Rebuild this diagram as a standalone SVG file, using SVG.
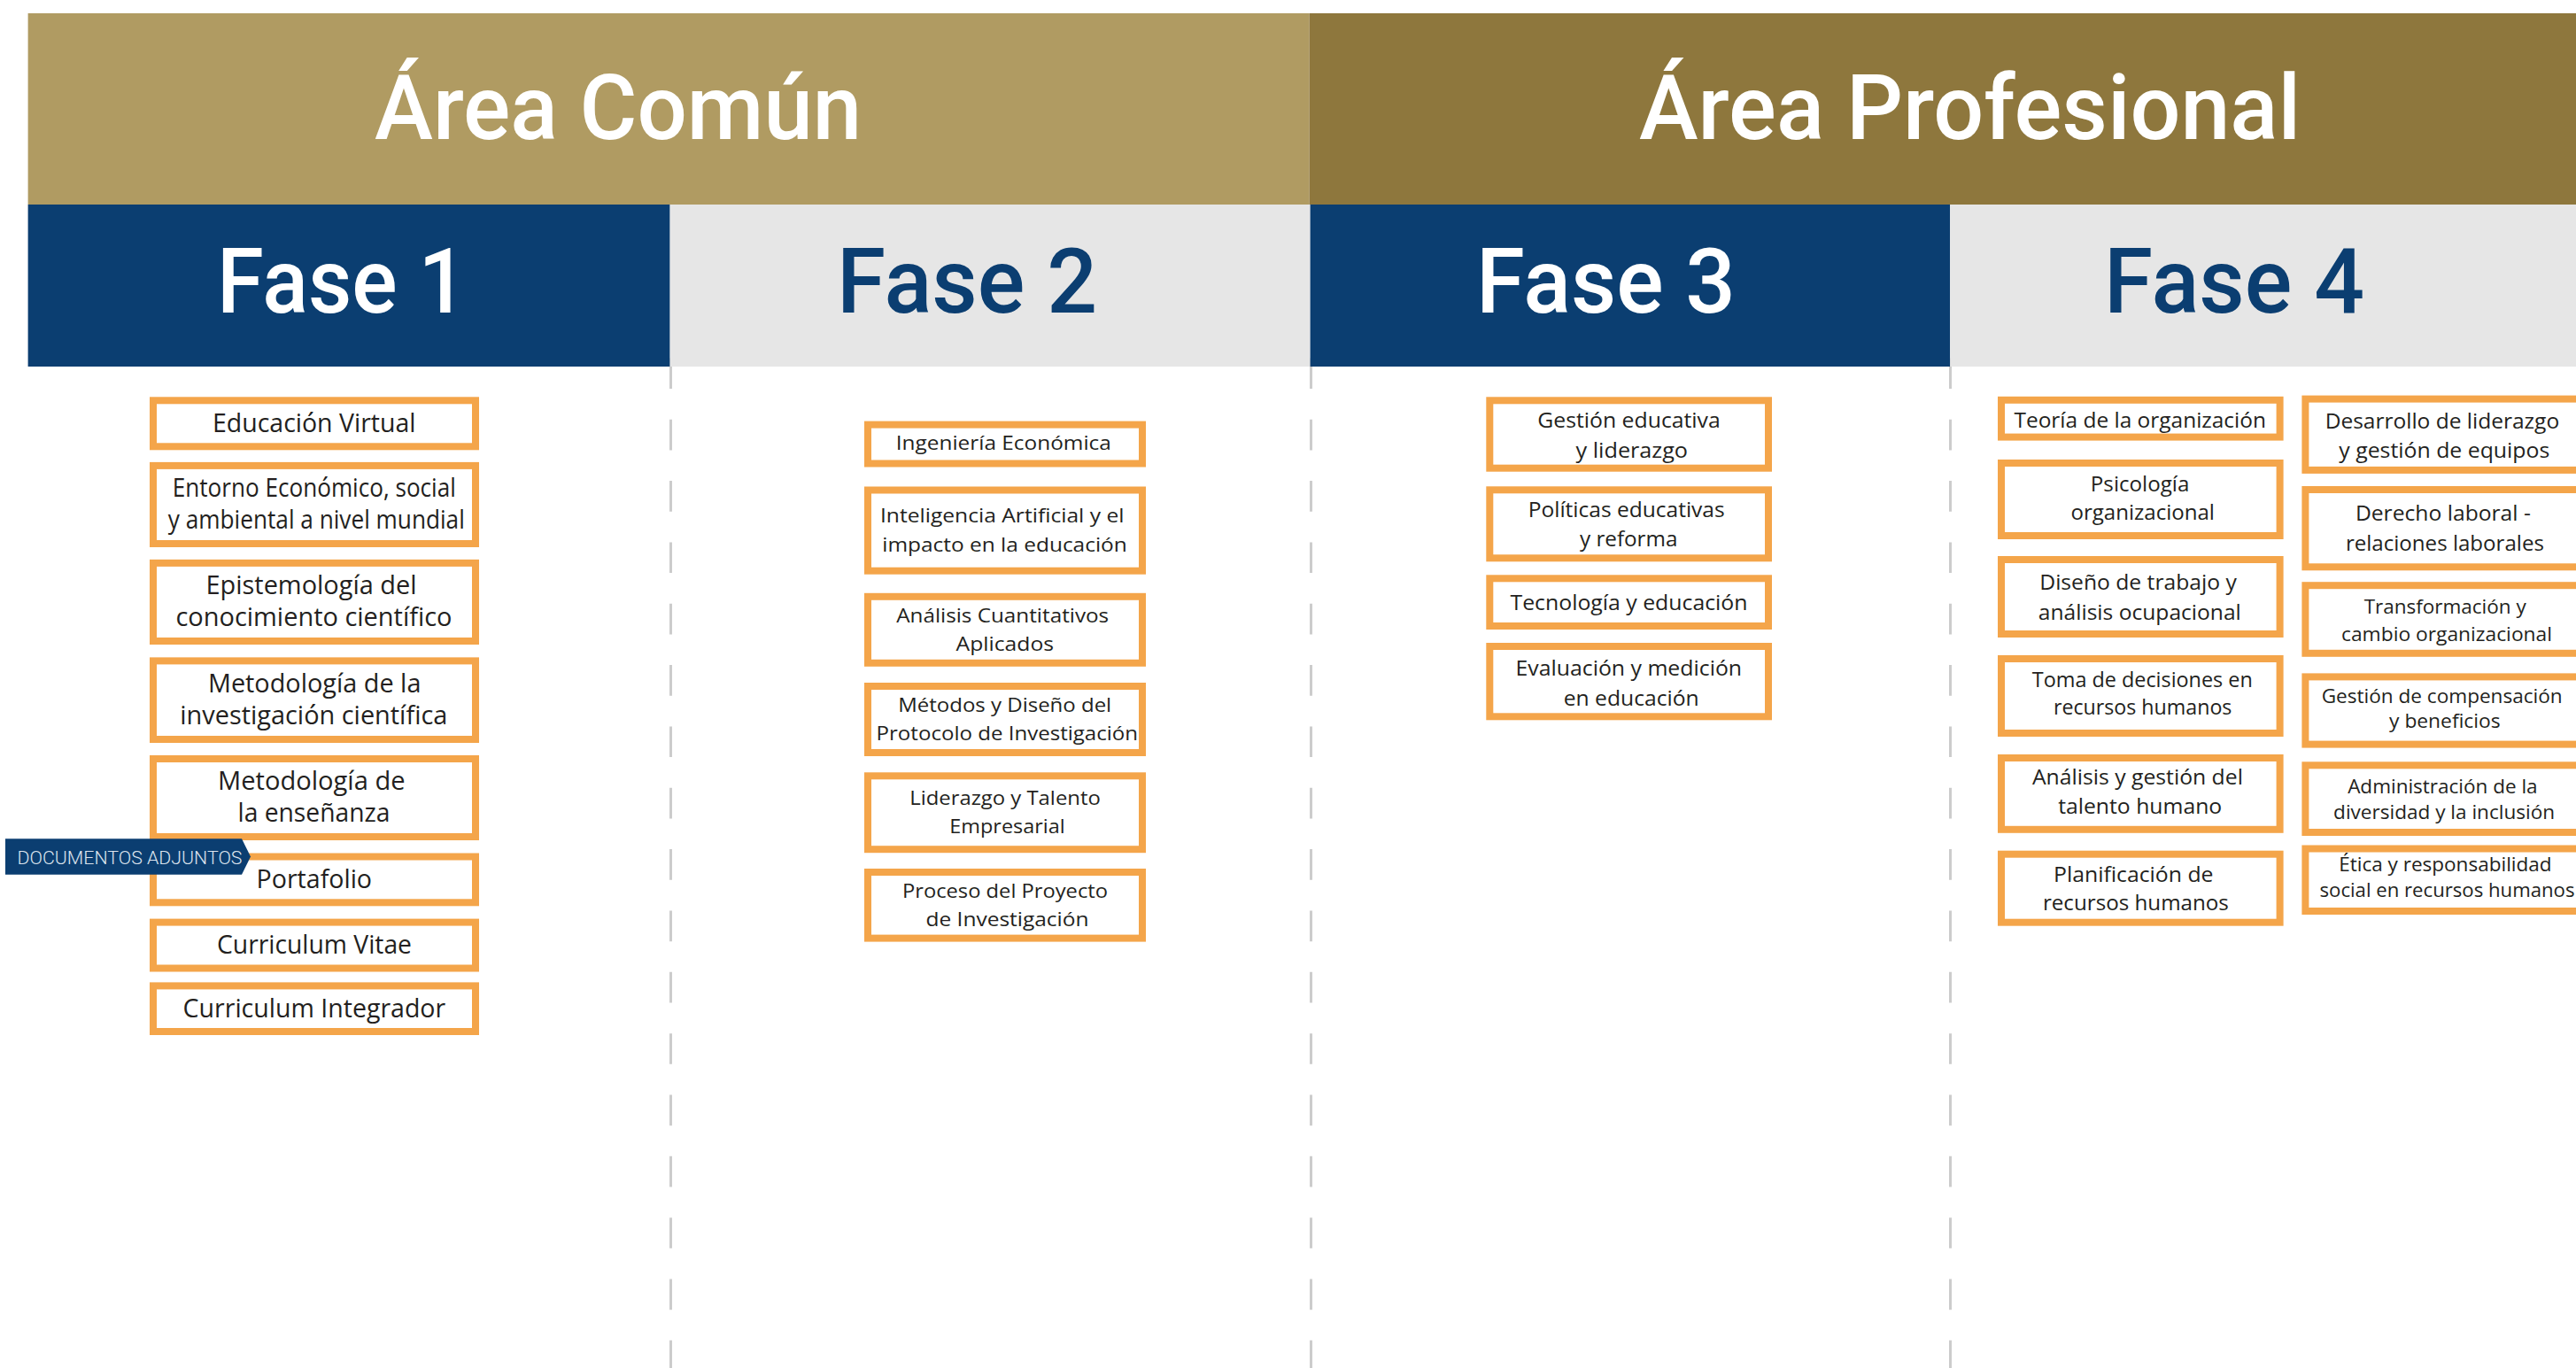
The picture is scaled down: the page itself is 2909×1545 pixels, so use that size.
<svg xmlns="http://www.w3.org/2000/svg" width="2909" height="1545" viewBox="0 0 2909 1545">
<style>
.box{fill:#FFFFFF;stroke:#F4A54A;stroke-width:8}
.tx{font-family:"Open Sans","Noto Sans",sans-serif;fill:#231F20;text-anchor:middle}
.f1{font-size:28.5px}
.f2{font-size:21px}
.f3{font-size:24px}
.f4{font-size:24px}
.f4s{font-size:21.5px}
.hd{font-family:Roboto,"Liberation Sans",sans-serif;font-weight:500;font-size:102px}
.div{stroke:#CCCCCC;stroke-width:3;stroke-dasharray:34.67 34.67;fill:none}
.tag{font-family:Roboto,"Liberation Sans",sans-serif;font-weight:300;font-size:21px;fill:#DDE4EE}
</style>
<rect x="0" y="0" width="2909" height="1545" fill="#FFFFFF"/>
<g id="dividers">
<line class="div" x1="757.5" y1="404.4" x2="757.5" y2="1545"/>
<line class="div" x1="1480.5" y1="404.4" x2="1480.5" y2="1545"/>
<line class="div" x1="2202.5" y1="404.4" x2="2202.5" y2="1545"/>
</g>
<g id="header">
<rect x="31.6" y="15" width="1447" height="216" fill="#B09B62"/>
<rect x="1478.6" y="15" width="1431" height="216" fill="#8E773D"/>
<rect x="31.6" y="231" width="725" height="183" fill="#0B3E71"/>
<rect x="756.6" y="231" width="723" height="183" fill="#E6E6E6"/>
<rect x="1479.6" y="231" width="722.6" height="183" fill="#0B3E71"/>
<rect x="2202.2" y="231" width="707" height="183" fill="#E6E6E6"/>
<text class="hd" x="423" y="157" fill="#FFFFFF" textLength="550" lengthAdjust="spacingAndGlyphs">Área Común</text>
<text class="hd" x="1851" y="157" fill="#FFFFFF" textLength="747" lengthAdjust="spacingAndGlyphs">Área Profesional</text>
<text class="hd" x="245" y="353" fill="#FFFFFF" textLength="282" lengthAdjust="spacingAndGlyphs">Fase 1</text>
<text class="hd" x="945" y="353" fill="#0B3E71" textLength="294" lengthAdjust="spacingAndGlyphs">Fase 2</text>
<text class="hd" x="1667" y="353" fill="#FFFFFF" textLength="293" lengthAdjust="spacingAndGlyphs">Fase 3</text>
<text class="hd" x="2376" y="353" fill="#0B3E71" textLength="294" lengthAdjust="spacingAndGlyphs">Fase 4</text>
</g>

<g id="fase1">
<g id="f1-educacion-virtual"><rect class="box" x="173" y="452.3" width="364" height="52"/>
<text class="tx f1" x="354.7" y="487.7" textLength="229.5" lengthAdjust="spacingAndGlyphs">Educación Virtual</text></g>
<g id="f1-entorno"><rect class="box" x="173" y="525.9" width="364" height="88.1"/>
<text class="tx f1" x="354.8" y="561" textLength="320" lengthAdjust="spacingAndGlyphs">Entorno Económico, social</text>
<text class="tx f1" x="357.3" y="596.5" textLength="335" lengthAdjust="spacingAndGlyphs">y ambiental a nivel mundial</text></g>
<g id="f1-epistemologia"><rect class="box" x="173" y="635.9" width="364" height="88.1"/>
<text class="tx f1" x="351.5" y="671.3" textLength="238" lengthAdjust="spacingAndGlyphs">Epistemología del</text>
<text class="tx f1" x="354.5" y="706.8" textLength="312" lengthAdjust="spacingAndGlyphs">conocimiento científico</text></g>
<g id="f1-metodologia-investigacion"><rect class="box" x="173" y="746.4" width="364" height="88.6"/>
<text class="tx f1" x="355.2" y="782" textLength="240.5" lengthAdjust="spacingAndGlyphs">Metodología de la</text>
<text class="tx f1" x="354.3" y="817.5" textLength="302" lengthAdjust="spacingAndGlyphs">investigación científica</text></g>
<g id="f1-metodologia-ensenanza"><rect class="box" x="173" y="857" width="364" height="88"/>
<text class="tx f1" x="351.8" y="892.3" textLength="211.5" lengthAdjust="spacingAndGlyphs">Metodología de</text>
<text class="tx f1" x="354.5" y="927.8" textLength="172" lengthAdjust="spacingAndGlyphs">la enseñanza</text></g>
<g id="f1-portafolio"><rect class="box" x="173" y="967.5" width="364" height="51.8"/>
<text class="tx f1" x="354.8" y="1002.8" textLength="130.5" lengthAdjust="spacingAndGlyphs">Portafolio</text></g>
<g id="f1-cv"><rect class="box" x="173" y="1041.6" width="364" height="51.9"/>
<text class="tx f1" x="355" y="1077" textLength="220" lengthAdjust="spacingAndGlyphs">Curriculum Vitae</text></g>
<g id="f1-ci"><rect class="box" x="173" y="1113.4" width="364" height="51.6"/>
<text class="tx f1" x="354.9" y="1148.7" textLength="296.6" lengthAdjust="spacingAndGlyphs">Curriculum Integrador</text></g>
<g id="documentos-adjuntos">
<polygon points="6,947.3 273,947.3 283,967.5 273,987.7 6,987.7" fill="#0B3E71"/>
<text class="tag" x="19.5" y="975.7" textLength="254" lengthAdjust="spacingAndGlyphs">DOCUMENTOS ADJUNTOS</text>
</g>
</g>

<g id="fase2">
<g id="f2-ingenieria"><rect class="box" x="980" y="479.6" width="310" height="43.9"/>
<text class="tx f2" x="1133.3" y="508.3" textLength="243" lengthAdjust="spacingAndGlyphs">Ingeniería Económica</text></g>
<g id="f2-ia"><rect class="box" x="980" y="553.5" width="310" height="91.2"/>
<text class="tx f2" x="1131.7" y="590" textLength="275.5" lengthAdjust="spacingAndGlyphs">Inteligencia Artificial y el</text>
<text class="tx f2" x="1134.5" y="622.7" textLength="276.5" lengthAdjust="spacingAndGlyphs">impacto en la educación</text></g>
<g id="f2-analisis"><rect class="box" x="980" y="673.8" width="310" height="75"/>
<text class="tx f2" x="1132.2" y="703" textLength="240" lengthAdjust="spacingAndGlyphs">Análisis Cuantitativos</text>
<text class="tx f2" x="1134.8" y="735" textLength="110.5" lengthAdjust="spacingAndGlyphs">Aplicados</text></g>
<g id="f2-metodos"><rect class="box" x="980" y="775" width="310" height="75"/>
<text class="tx f2" x="1134.7" y="803.5" textLength="241" lengthAdjust="spacingAndGlyphs">Métodos y Diseño del</text>
<text class="tx f2" x="1137.3" y="836" textLength="295.5" lengthAdjust="spacingAndGlyphs">Protocolo de Investigación</text></g>
<g id="f2-liderazgo"><rect class="box" x="980" y="876.3" width="310" height="82.9"/>
<text class="tx f2" x="1135" y="908.5" textLength="215.5" lengthAdjust="spacingAndGlyphs">Liderazgo y Talento</text>
<text class="tx f2" x="1137.5" y="941" textLength="130.5" lengthAdjust="spacingAndGlyphs">Empresarial</text></g>
<g id="f2-proceso"><rect class="box" x="980" y="985" width="310" height="74.6"/>
<text class="tx f2" x="1135" y="1014" textLength="232" lengthAdjust="spacingAndGlyphs">Proceso del Proyecto</text>
<text class="tx f2" x="1137.5" y="1046" textLength="184" lengthAdjust="spacingAndGlyphs">de Investigación</text></g>
</g>

<g id="fase3">
<g id="f3-gestion"><rect class="box" x="1682.3" y="452.3" width="314.7" height="76.4"/>
<text class="tx f3" x="1839.5" y="483.3" textLength="206.5" lengthAdjust="spacingAndGlyphs">Gestión educativa</text>
<text class="tx f3" x="1842.8" y="516.5" textLength="126.5" lengthAdjust="spacingAndGlyphs">y liderazgo</text></g>
<g id="f3-politicas"><rect class="box" x="1682.3" y="553.3" width="314.7" height="77"/>
<text class="tx f3" x="1836.7" y="584.3" textLength="222" lengthAdjust="spacingAndGlyphs">Políticas educativas</text>
<text class="tx f3" x="1839.2" y="617" textLength="110.5" lengthAdjust="spacingAndGlyphs">y reforma</text></g>
<g id="f3-tecnologia"><rect class="box" x="1682.3" y="653.3" width="314.7" height="53.7"/>
<text class="tx f3" x="1839.5" y="689.3" textLength="268" lengthAdjust="spacingAndGlyphs">Tecnología y educación</text></g>
<g id="f3-evaluacion"><rect class="box" x="1682.3" y="730" width="314.7" height="79.3"/>
<text class="tx f3" x="1839.3" y="763.3" textLength="255.5" lengthAdjust="spacingAndGlyphs">Evaluación y medición</text>
<text class="tx f3" x="1842.2" y="796.7" textLength="153" lengthAdjust="spacingAndGlyphs">en educación</text></g>
</g>

<g id="fase4">
<g id="f4-teoria"><rect class="box" x="2260" y="451.8" width="314.6" height="41.8"/>
<text class="tx f4" x="2416.7" y="483.1" textLength="284.5" lengthAdjust="spacingAndGlyphs">Teoría de la organización</text></g>
<g id="f4-psicologia"><rect class="box" x="2260" y="523" width="314.6" height="82"/>
<text class="tx f4" x="2416.6" y="555.2" textLength="111.5" lengthAdjust="spacingAndGlyphs">Psicología</text>
<text class="tx f4" x="2419.7" y="586.7" textLength="162.5" lengthAdjust="spacingAndGlyphs">organizacional</text></g>
<g id="f4-diseno"><rect class="box" x="2260" y="632" width="314.6" height="84"/>
<text class="tx f4" x="2414.5" y="666.3" textLength="222.5" lengthAdjust="spacingAndGlyphs">Diseño de trabajo y</text>
<text class="tx f4" x="2416.3" y="699.5" textLength="229" lengthAdjust="spacingAndGlyphs">análisis ocupacional</text></g>
<g id="f4-toma"><rect class="box" x="2260" y="744" width="314.6" height="84"/>
<text class="tx f4" x="2419.3" y="776.2" textLength="249" lengthAdjust="spacingAndGlyphs">Toma de decisiones en</text>
<text class="tx f4" x="2419.7" y="807.3" textLength="201.5" lengthAdjust="spacingAndGlyphs">recursos humanos</text></g>
<g id="f4-talento"><rect class="box" x="2260" y="856" width="314.6" height="80.8"/>
<text class="tx f4" x="2413.9" y="886" textLength="238" lengthAdjust="spacingAndGlyphs">Análisis y gestión del</text>
<text class="tx f4" x="2416.7" y="919.2" textLength="185" lengthAdjust="spacingAndGlyphs">talento humano</text></g>
<g id="f4-planificacion"><rect class="box" x="2260" y="964.7" width="314.6" height="77"/>
<text class="tx f4" x="2409.3" y="995.9" textLength="180.5" lengthAdjust="spacingAndGlyphs">Planificación de</text>
<text class="tx f4" x="2411.9" y="1027.8" textLength="210" lengthAdjust="spacingAndGlyphs">recursos humanos</text></g>

<g id="f4-desarrollo"><rect class="box" x="2603.4" y="450.6" width="314" height="80.3"/>
<text class="tx f4" x="2757.9" y="484" textLength="264.5" lengthAdjust="spacingAndGlyphs">Desarrollo de liderazgo</text>
<text class="tx f4" x="2760.3" y="516.7" textLength="238" lengthAdjust="spacingAndGlyphs">y gestión de equipos</text></g>
<g id="f4-derecho"><rect class="box" x="2603.4" y="553" width="314" height="87.3"/>
<text class="tx f4" x="2758.9" y="588.3" textLength="198" lengthAdjust="spacingAndGlyphs">Derecho laboral -</text>
<text class="tx f4" x="2760.9" y="621.7" textLength="224" lengthAdjust="spacingAndGlyphs">relaciones laborales</text></g>
<g id="f4-transformacion"><rect class="box" x="2603.4" y="661.2" width="314" height="76.6"/>
<text class="tx f4s" x="2761.2" y="693.3" textLength="183" lengthAdjust="spacingAndGlyphs">Transformación y</text>
<text class="tx f4s" x="2763" y="724.4" textLength="238" lengthAdjust="spacingAndGlyphs">cambio organizacional</text></g>
<g id="f4-compensacion"><rect class="box" x="2603.4" y="764.4" width="314" height="76.2"/>
<text class="tx f4s" x="2757.7" y="793.6" textLength="272" lengthAdjust="spacingAndGlyphs">Gestión de compensación</text>
<text class="tx f4s" x="2760.8" y="821.8" textLength="125.5" lengthAdjust="spacingAndGlyphs">y beneficios</text></g>
<g id="f4-diversidad"><rect class="box" x="2603.4" y="864.3" width="314" height="75.7"/>
<text class="tx f4s" x="2758.4" y="896.4" textLength="214.5" lengthAdjust="spacingAndGlyphs">Administración de la</text>
<text class="tx f4s" x="2760.1" y="925.4" textLength="250" lengthAdjust="spacingAndGlyphs">diversidad y la inclusión</text></g>
<g id="f4-etica"><rect class="box" x="2603.4" y="958.5" width="314" height="70.5"/>
<text class="tx f4s" x="2761.4" y="983.5" textLength="240.5" lengthAdjust="spacingAndGlyphs">Ética y responsabilidad</text>
<text class="tx f4s" x="2763.5" y="1012.5" textLength="288" lengthAdjust="spacingAndGlyphs">social en recursos humanos</text></g>
</g>
</svg>
